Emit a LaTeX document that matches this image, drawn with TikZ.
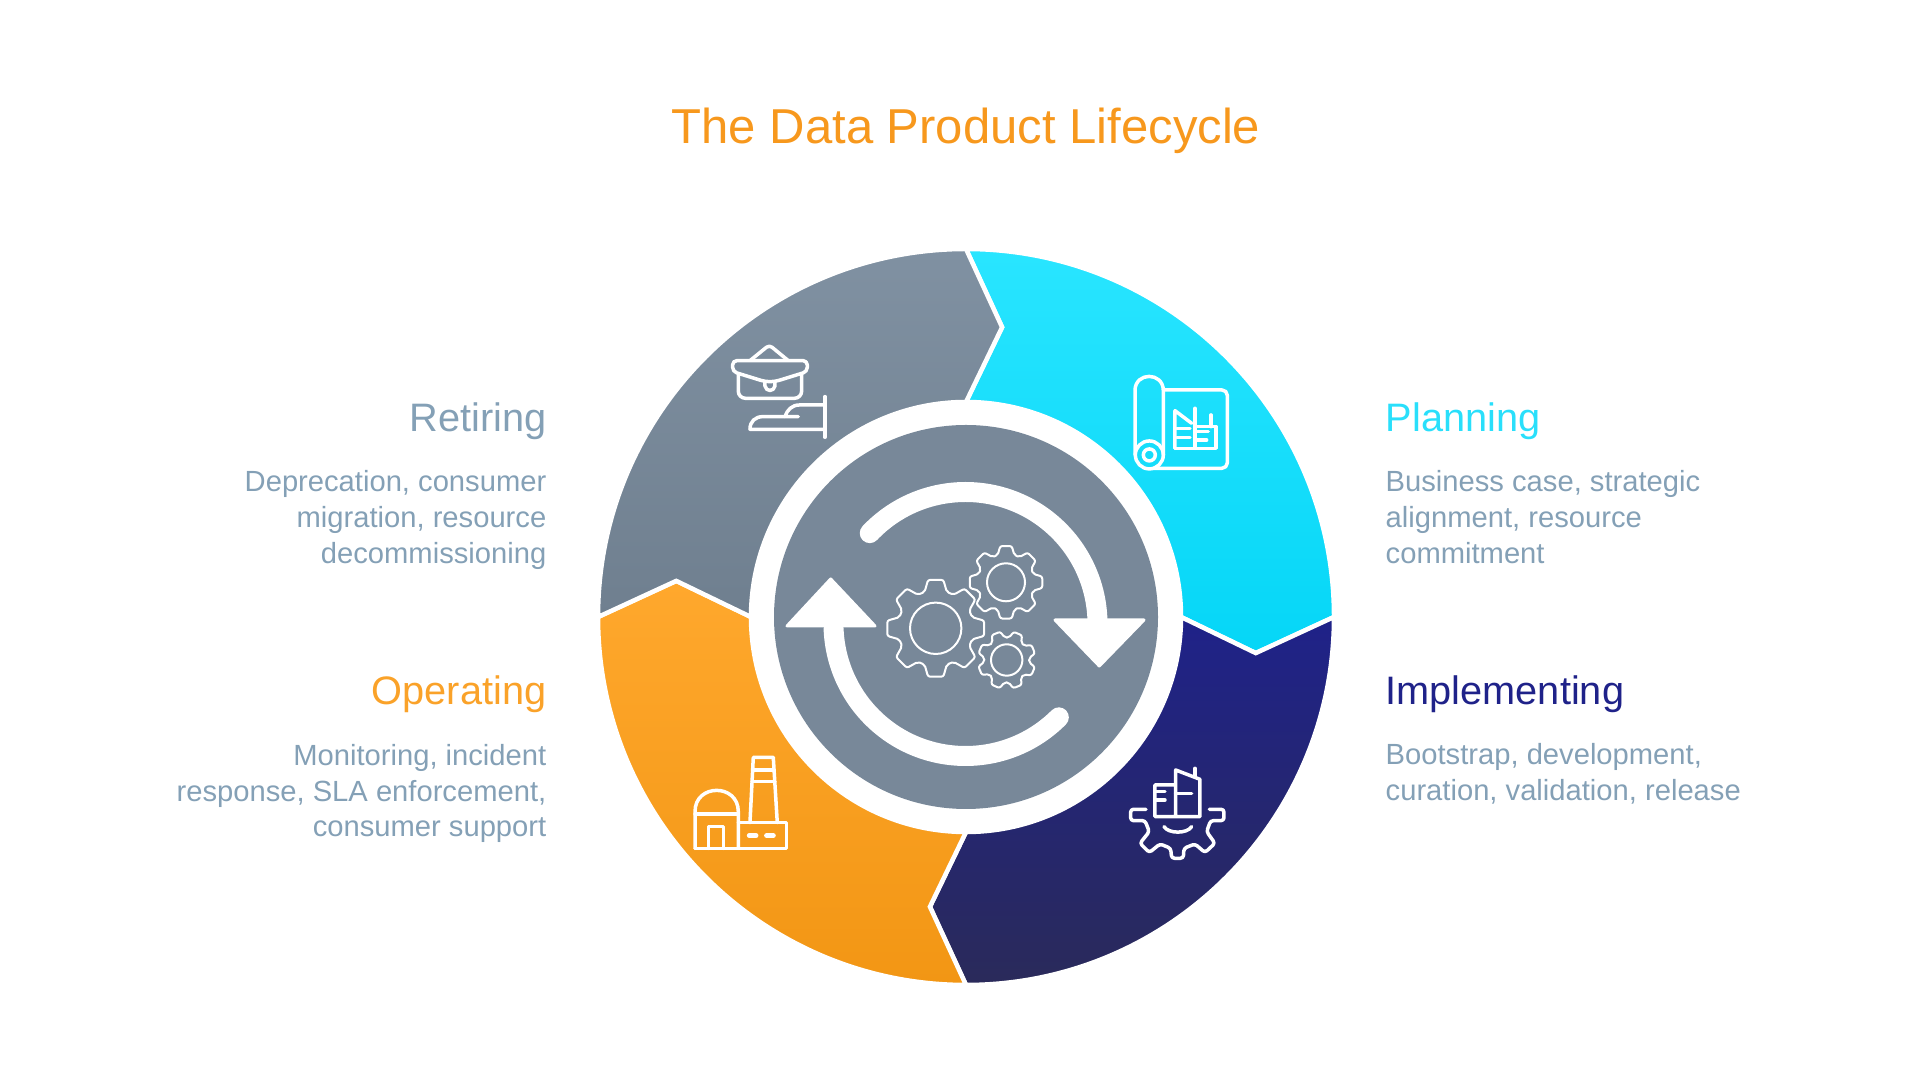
\documentclass[tikz,border=0pt]{standalone}
\usepackage{fontspec}
\setmainfont{Liberation Sans}
\usepackage{tikz}
\usetikzlibrary{positioning}
\definecolor{titleorange}{HTML}{F7981D}
\definecolor{planningcyan}{HTML}{29DFFB}
\definecolor{planningtop}{HTML}{29E5FF}
\definecolor{planningbot}{HTML}{05D6F7}
\definecolor{implementblue}{HTML}{1F2289}
\definecolor{implementtop}{HTML}{1F2289}
\definecolor{implementbot}{HTML}{2A2A5A}
\definecolor{operatingorange}{HTML}{FAA229}
\definecolor{operatingtop}{HTML}{FFA82D}
\definecolor{operatingbot}{HTML}{F29614}
\definecolor{retiringgrey}{HTML}{84A0B6}
\definecolor{retiringtop}{HTML}{8091A2}
\definecolor{retiringbot}{HTML}{6F7F8F}
\definecolor{hubgrey}{HTML}{788899}
\definecolor{bodygrey}{HTML}{84A0B6}
\newcommand{\gearicon}[6]{% centre, outer r, root r, hole r, rotation
    \draw[gearline, rotate around={#5:(#1,#2)}, shift={(#1,#2)}]
        (-17:#4) \foreach \t in {0,45,...,270} {
            -- (\t-9:#3) -- (\t+9:#3) -- (\t+17:#4) -- (\t+28:#4)
        } -- (306:#3) -- (324:#3) -- (332:#4) -- cycle;
    \draw[gearline] (#1,#2) circle (#6);
}
\begin{document}
\begin{tikzpicture}[
    heading/.style={font=\fontsize{11.3}{14}\selectfont, inner sep=0pt},
    descleft/.style={font=\fontsize{8.3}{10.16}\selectfont, bodygrey, inner sep=0pt, anchor=east, align=right},
    descright/.style={font=\fontsize{8.3}{10.16}\selectfont, bodygrey, inner sep=0pt, anchor=west, align=left},
    iconline/.style={white, line width=0.035cm, line join=round, line cap=round},
    gearline/.style={white, line width=0.02cm, line join=round, rounded corners=0.6pt},
    cyclearc/.style={white, line width=0.2cm, line cap=round},
    cyclehead/.style={fill=white, draw=white, line width=0.03cm, line join=round}
]
    \useasboundingbox (0,0) rectangle (19.2,10.8);

    % === TITLE ===
    \node[font=\fontsize{13.95}{16}\selectfont, titleorange, inner sep=0pt] (title) at (9.66,9.49) {The Data Product Lifecycle};

    % === RING SEGMENTS ===
    \begin{scope}[shift={(9.66,4.63)}]
        \foreach \a/\topc/\botc in {90/planningtop/planningbot, 0/implementtop/implementbot,
                                    -90/operatingtop/operatingbot, -180/retiringtop/retiringbot} {
            \draw[white, line width=0.045cm, top color=\topc, bottom color=\botc]
                (\a:3.68) arc[start angle=\a, end angle=\a-90, radius=3.68]
                -- (\a-97.1:2.92) -- (\a-90:2.15)
                arc[start angle=\a-90, end angle=\a, radius=2.15]
                -- (\a-7.1:2.92) -- cycle;
        }
        \fill[white] (0,0) circle (2.15);
        \fill[hubgrey] (0,0) circle (1.92);
    \end{scope}

    % === CYCLE ARROWS ===
    \begin{scope}[shift={(9.655,4.56)}]
        \draw[cyclearc] (136.5:1.32) arc[start angle=136.5, end angle=2, radius=1.32];
        \draw[cyclearc] (-45:1.32) arc[start angle=-45, end angle=-178, radius=1.32];
    \end{scope}
    \draw[cyclehead] (10.55,4.60) -- (11.44,4.60) -- (10.993,4.14) -- cycle;
    \draw[cyclehead] (7.87,4.54) -- (8.75,4.54) -- (8.307,5.01) -- cycle;

    % === GEARS ===
    \gearicon{9.357}{4.517}{0.49}{0.38}{0}{0.257}
    \gearicon{10.06}{4.977}{0.367}{0.285}{0}{0.19}
    \gearicon{10.067}{4.20}{0.29}{0.225}{22}{0.157}

    % === RETIRING ICON ===
    \begin{scope}[shift={(7.00,7.60)}, x=0.01cm/3, y=-0.01cm/3]
        \draw[iconline, rounded corners=1.2pt] (98,122) -- (322,122) -- (322,155) -- (225,185) -- (195,185) -- (98,155) -- cycle;
        \draw[iconline, rounded corners=2pt] (115,165) -- (115,235) -- (305,235) -- (305,165);
        \draw[iconline] (195,185) -- (195,198) .. controls (198,216) and (222,216) .. (225,198) -- (225,185);
        \draw[iconline, rounded corners=1pt] (150,122) -- (208,75) -- (265,122);
        \draw[iconline] (375,230) -- (375,352);
        \draw[iconline] (375,255) -- (300,255) .. controls (275,255) and (262,270) .. (255,290);
        \draw[iconline] (295,290) -- (190,290) .. controls (165,290) and (150,305) .. (150,328) -- (375,328);
    \end{scope}

    % === PLANNING ICON ===
    \begin{scope}[shift={(11.10,7.20)}, x=0.01cm/3, y=-0.01cm/3]
        \draw[iconline] (75,285) -- (75,92) .. controls (75,35) and (160,35) .. (160,92) -- (160,285);
        \draw[iconline] (118,285) circle[radius=42];
        \draw[iconline] (118,285) circle[radius=18];
        \draw[iconline, rounded corners=1.5pt] (160,90) -- (352,90) -- (352,325) -- (130,325);
        \draw[iconline] (195,265) -- (195,152) -- (245,190);
        \draw[iconline] (255,145) -- (255,265);
        \draw[iconline] (255,200) -- (318,200) -- (318,265) -- (195,265);
        \draw[iconline] (303,165) -- (303,200);
        \draw[iconline] (200,205) -- (240,205);
        \draw[iconline] (200,232) -- (240,232);
        \draw[iconline] (262,215) -- (295,215);
        \draw[iconline] (262,240) -- (290,240);
    \end{scope}

    % === IMPLEMENTING ICON ===
    \begin{scope}[shift={(11.10,3.30)}, x=0.01cm/3, y=-0.01cm/3]
        \draw[iconline] (197,105) -- (135,105) -- (135,200) -- (270,200) -- (270,88) -- (197,60) -- (197,200);
        \draw[iconline] (255,55) -- (255,80);
        \draw[iconline] (135,125) -- (165,125);
        \draw[iconline] (135,150) -- (165,150);
        \draw[iconline] (197,130) -- (245,130);
        \draw[iconline, rounded corners=0.8pt] (108,178) -- (62,178) -- (62,212) -- (105,212) -- (118,245)
            -- (90,280) -- (118,308) -- (150,282) -- (182,295) -- (185,325) -- (220,325) -- (222,295)
            -- (255,282) -- (285,308) -- (315,280) -- (290,245) -- (302,212) -- (342,212) -- (342,178) -- (298,178);
        \draw[iconline] (162,230) .. controls (175,252) and (232,252) .. (245,230);
    \end{scope}

    % === OPERATING ICON ===
    \begin{scope}[shift={(6.80,3.40)}, x=0.01cm/3, y=-0.01cm/3]
        \draw[iconline] (45,325) -- (45,215) .. controls (45,130) and (175,130) .. (175,215) -- (175,325);
        \draw[iconline] (45,222) -- (175,222);
        \draw[iconline] (45,325) -- (320,325) -- (320,248) -- (175,248);
        \draw[iconline] (85,325) -- (85,260) -- (130,260) -- (130,325);
        \draw[iconline] (210,248) -- (220,52) -- (280,52) -- (292,248);
        \draw[iconline] (218,90) -- (282,90);
        \draw[iconline] (216,125) -- (285,125);
        \draw[iconline, line width=0.05cm] (208,287) -- (228,287);
        \draw[iconline, line width=0.05cm] (260,287) -- (280,287);
    \end{scope}

    % === LEFT LABELS ===
    \node[heading, retiringgrey, anchor=east] (retiring) at (5.47,6.585) {Retiring};
    \node[descleft] (retiringtext) at (5.47,5.60) {Deprecation, consumer\\migration, resource\\decommissioning};
    \node[heading, operatingorange, anchor=east] (operating) at (5.47,3.855) {Operating};
    \node[descleft] (operatingtext) at (5.47,2.865) {Monitoring, incident\\response, SLA enforcement,\\consumer support};

    % === RIGHT LABELS ===
    \node[heading, planningcyan, anchor=west] (planning) at (13.85,6.585) {Planning};
    \node[descright] (planningtext) at (13.85,5.63) {Business case, strategic\\alignment, resource\\commitment};
    \node[heading, implementblue, anchor=west] (implementing) at (13.85,3.855) {Implementing};
    \node[descright] (implementingtext) at (13.85,3.06) {Bootstrap, development,\\curation, validation, release};
\end{tikzpicture}
\end{document}
